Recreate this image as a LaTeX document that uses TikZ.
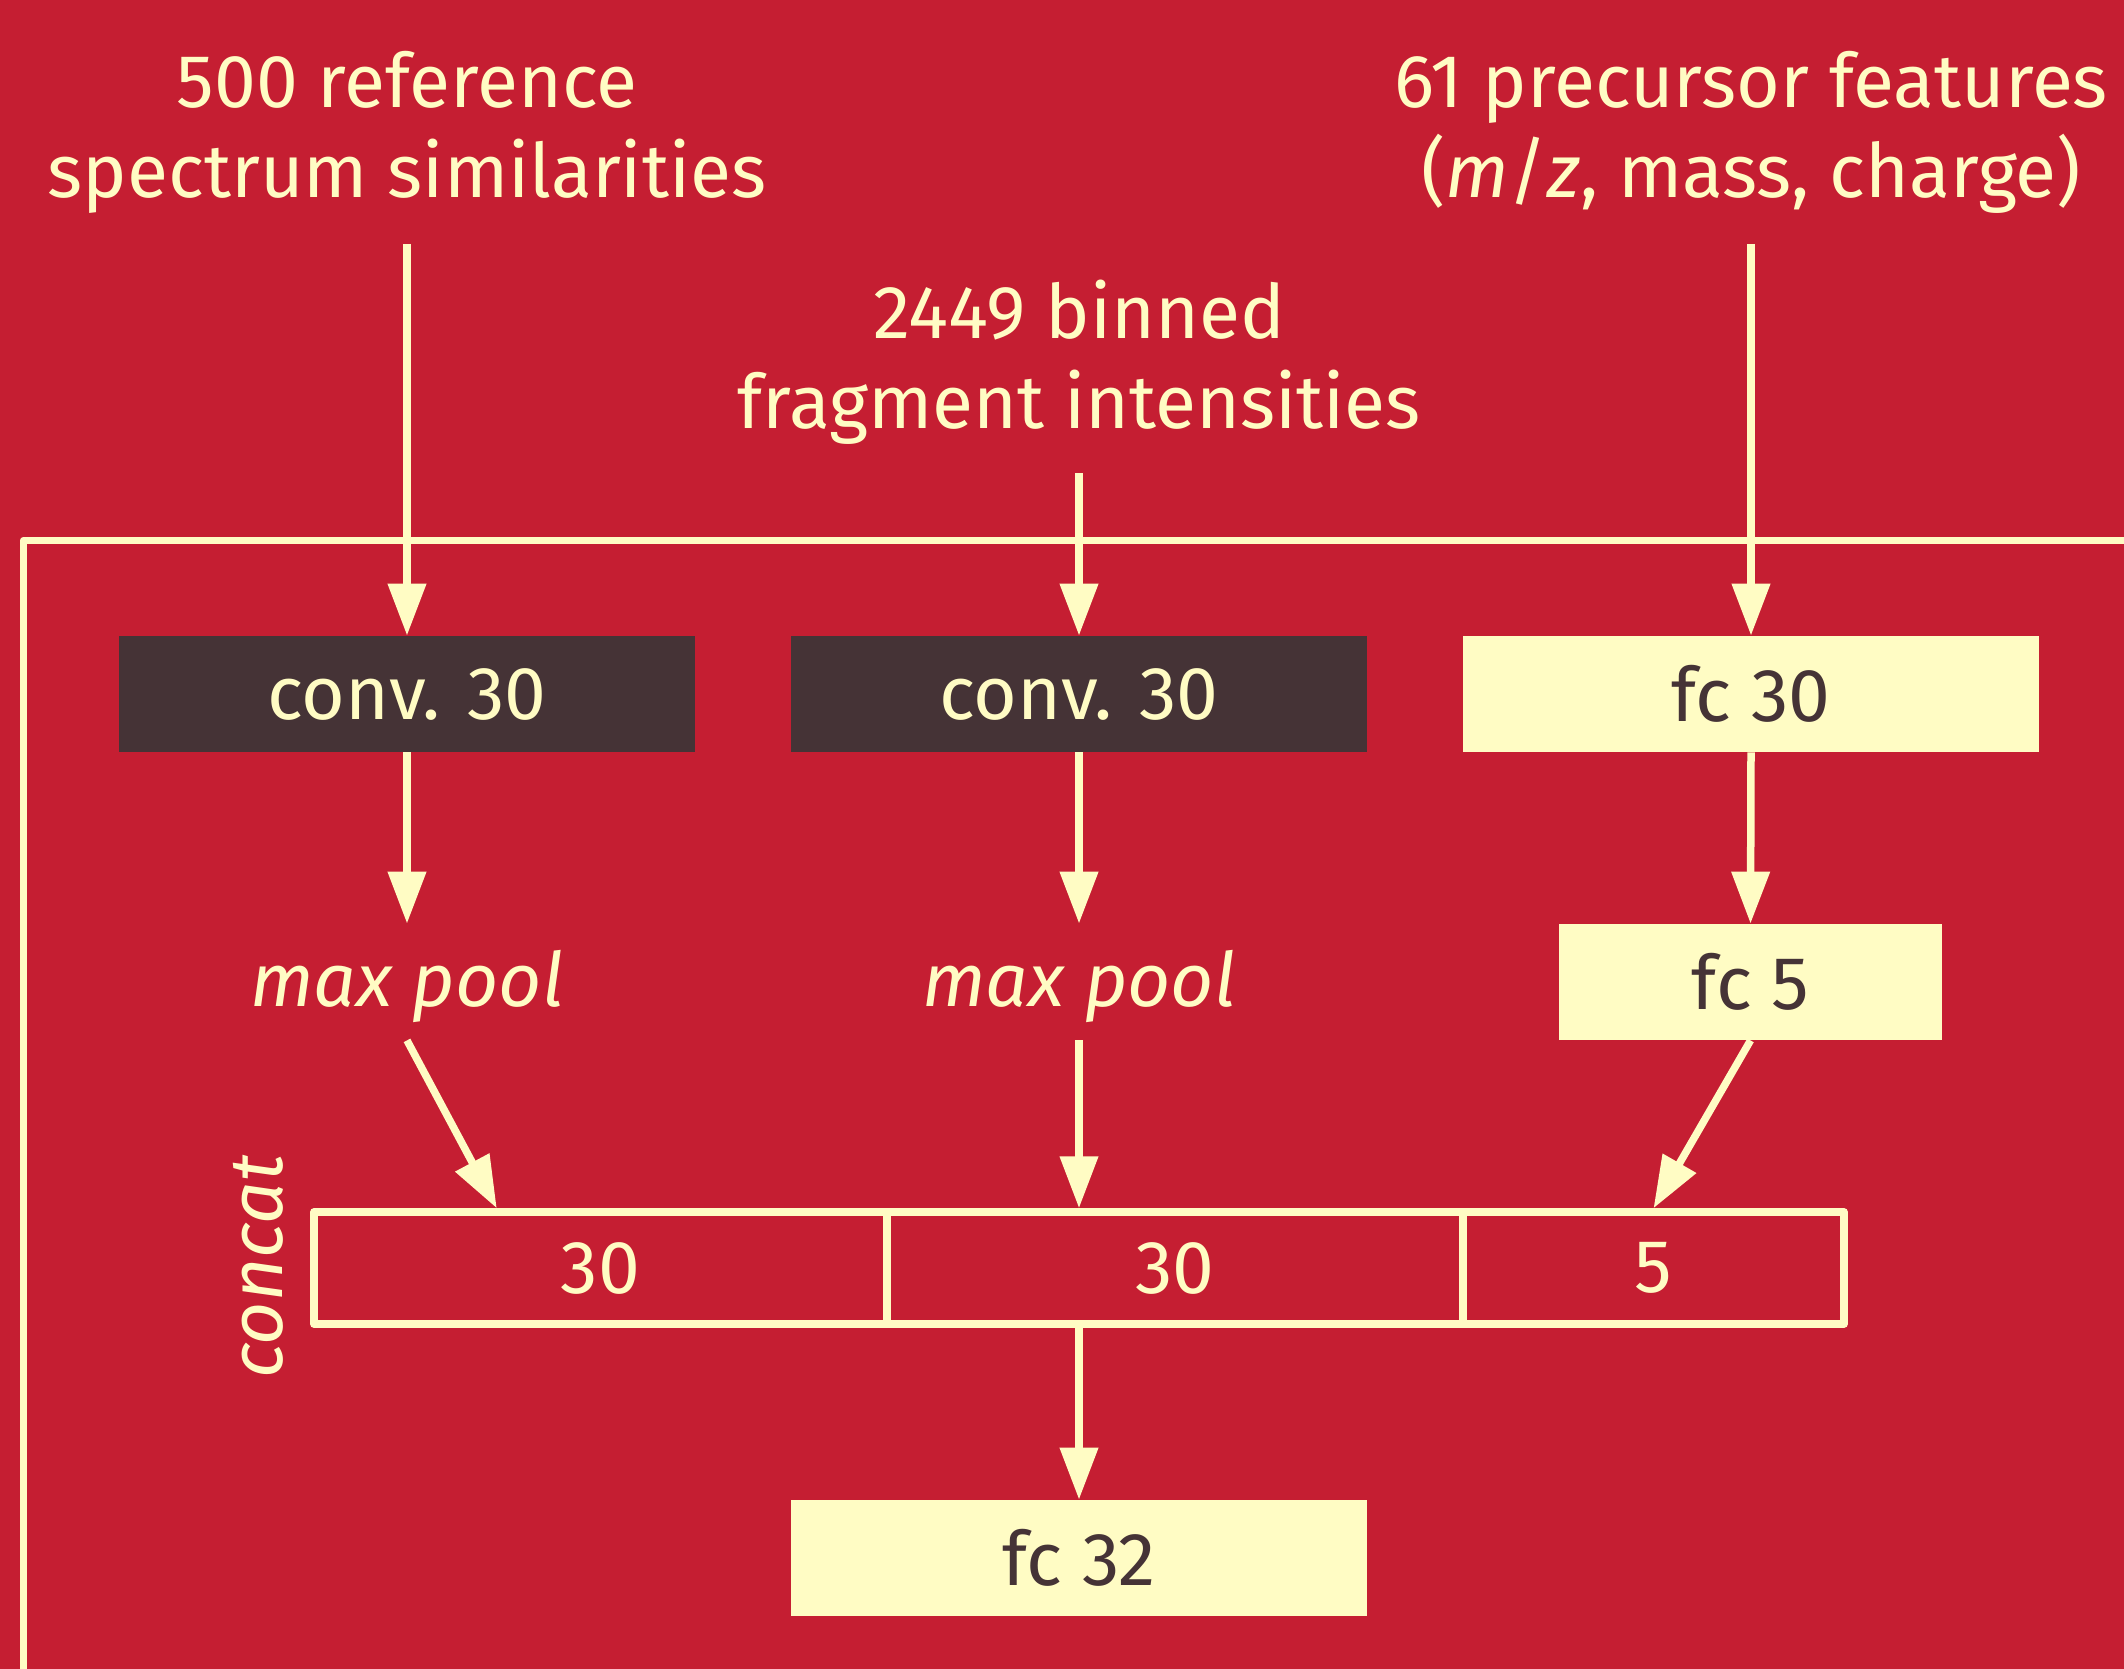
\documentclass[tikz,border=0pt]{standalone}
\usepackage{fontspec}
\setmainfont{Fira Sans}
\setsansfont{Fira Sans}
\usetikzlibrary{arrows.meta,calc}
\definecolor{bgred}{RGB}{197,30,50}
\definecolor{cream}{RGB}{255,252,196}
\definecolor{darkbg}{RGB}{69,51,54}
\newcommand\bigfont{\fontsize{37.5}{45}\selectfont}
\begin{document}
\begin{tikzpicture}[x=0.5pt,y=-0.5pt,
  font=\bigfont,
  arr/.style={draw=cream, line width=3.75pt, -{Triangle[length=26pt,width=18.5pt]}},
  darkbox/.style={fill=darkbg, text=cream, minimum width=288pt, minimum height=58pt, inner sep=0pt, font=\bigfont},
  lightbox/.style={fill=cream, text=darkbg, minimum width=288pt, minimum height=58pt, inner sep=0pt, font=\bigfont},
  catbox/.style={draw=cream, line width=3.75pt, line join=round, minimum height=56pt, inner sep=0pt, text=cream, font=\bigfont},
  lab/.style={text=cream, align=center, anchor=base, inner sep=0pt, font=\bigfont},
  pooltext/.style={text=cream, text height=41pt, text depth=17pt, inner sep=0pt, font=\bigfont\itshape},
]
\useasboundingbox (0,0) rectangle (2124,1669);
\fill[bgred] (0,0) rectangle (2124,1669);
\begin{scope}
\clip (0,0) rectangle (2124,1669);
\draw[cream, line width=3.75pt, line join=round] (23.5,1700) -- (23.5,540.5) -- (2150,540.5);
\end{scope}

% input labels (base anchor = baseline of the last line)
\node[lab] (lab1) at (407,198) {500 reference\\spectrum similarities};
\node[lab] (lab2) at (1079,428) {2449 binned\\fragment intensities};
\node[lab] (lab3) at (1751,198) {61 precursor features\\(\textit{m}/\textit{z}, mass, charge)};
\coordinate (s1) at (407,244);
\coordinate (s2) at (1079,473);
\coordinate (s3) at (1751,244);

% boxes
\node[darkbox] (conv1) at (407,694) {conv. 30};
\node[darkbox] (conv2) at (1079,694) {conv. 30};
\node[lightbox] (fc30) at (1751,694) {fc 30};
\node[pooltext] (mp1) at (407,982) {max pool};
\node[pooltext] (mp2) at (1079,982) {max pool};
\node[lightbox, minimum width=191.5pt] (fc5) at (1750.5,982) {fc 5};

% concat
\node[catbox, minimum width=286.5pt] (cat1) at (600.5,1268) {30};
\node[catbox, minimum width=288pt] (cat2) at (1175,1268) {30};
\node[catbox, minimum width=190.5pt] (cat3) at (1653.5,1268) {5};
\node[text=cream, rotate=90, anchor=base, inner sep=0pt, font=\bigfont\itshape] (cc) at (282,1267) {concat};

\node[lightbox] (fc32) at (1079,1558) {fc 32};

% arrows
\draw[arr] (s1) -- (conv1.north);
\draw[arr] (s2) -- (conv2.north);
\draw[arr] (s3) -- (fc30.north);
\draw[arr] (conv1.south) -- (mp1.north);
\draw[arr] (conv2.south) -- (mp2.north);
\draw[arr] (fc30.south) -- (fc5.north);
\draw[arr] (mp1.south) -- ([xshift=93.25pt]cat1.north west);
\draw[arr] (mp2.south) -- (mp2.south |- cat2.north);
\draw[arr] (fc5.south) -- (cat3.north);
\draw[arr] (fc32.north |- cat2.south) -- (fc32.north);
\end{tikzpicture}
\end{document}
